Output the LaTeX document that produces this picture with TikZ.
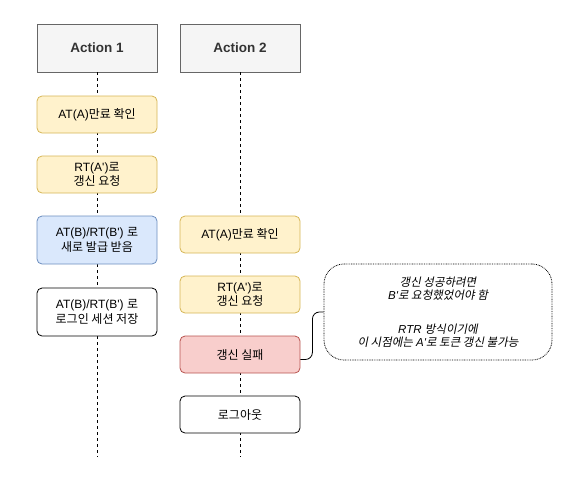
\documentclass[tikz,border=0pt]{standalone}
\usepackage{fontspec}
\setmainfont{Liberation Sans}[Ligatures=TeXOff]
\newfontfamily\kr{Noto Sans CJK KR}
\newfontfamily\krit{Noto Sans CJK KR}[FakeSlant=0.2]
\newcommand\K[1]{{\kr #1}}
\newcommand\KI[1]{{\krit #1}}
\definecolor{hfill}{HTML}{F5F5F5}
\definecolor{hdraw}{HTML}{666666}
\definecolor{htext}{HTML}{333333}
\definecolor{yfill}{HTML}{FFF2CC}
\definecolor{ydraw}{HTML}{D6B656}
\definecolor{bfill}{HTML}{DAE8FC}
\definecolor{bdraw}{HTML}{6C8EBF}
\definecolor{rfill}{HTML}{F8CECC}
\definecolor{rdraw}{HTML}{B85450}
\begin{document}
\begin{tikzpicture}[x=1pt,y=-1pt,
  head/.style={draw=hdraw, fill=hfill, text=htext, line width=0.8pt, minimum width=120pt, minimum height=48pt, inner sep=0pt, font=\fontsize{13.5}{16}\selectfont\bfseries},
  box/.style={draw, rounded corners=5pt, line width=0.8pt, minimum width=120pt, minimum height=37pt, inner sep=0pt, align=center, font=\fontsize{12}{14.5}\selectfont},
  tall/.style={box, minimum height=48pt},
  yel/.style={box, fill=yfill, draw=ydraw},
  blu/.style={tall, fill=bfill, draw=bdraw},
  wht/.style={box, fill=white, draw=black},
  red/.style={box, fill=rfill, draw=rdraw},
  life/.style={dashed, dash pattern=on 3pt off 3pt, line width=0.8pt},
  note/.style={draw, dash pattern=on 0.8pt off 0.9pt, line width=0.8pt, rounded corners=20pt, minimum width=228pt, minimum height=96pt, inner sep=0pt, align=center, font=\fontsize{11.5}{12.5}\selectfont\itshape},
  conn/.style={line width=0.8pt, rounded corners=7pt}
]
\useasboundingbox (0,0) rectangle (564,480);
\node[head] (h1) at (97,48) {Action 1};
\node[head] (h2) at (240,48) {Action 2};
\coordinate (e1) at (97,457);
\coordinate (e2) at (240,457);
\draw[life] (h1.south) -- (e1);
\draw[life] (h2.south) -- (e2);

\node[yel] (a1) at (97,114.5) {AT(A)\K{만료 확인}};
\node[yel] (a2) at (97,174.5) {RT(A')\K{로}\\\K{갱신 요청}};
\node[blu] (a3) at (97,240) {AT(B)/RT(B') \K{로}\\\K{새로 발급 받음}};
\node[tall, fill=white, draw=black] (a4) at (97,312) {AT(B)/RT(B') \K{로}\\\K{로그인 세션 저장}};

\node[yel] (b1) at (240,234.5) {AT(A)\K{만료 확인}};
\node[yel] (b2) at (240,294.5) {RT(A')\K{로}\\\K{갱신 요청}};
\node[red] (fail) at (240,354.5) {\K{갱신 실패}};
\node[wht] (b4) at (240,414.5) {\K{로그아웃}};

\node[note] (note) at (438,312) {\KI{갱신 성공하려면}\\B'\KI{로 요청했었어야 함}\\[22pt]RTR \KI{방식이기에}\\\KI{이 시점에는} A'\KI{로 토큰 갱신 불가능}};
\draw[conn] ([yshift=-5pt]fail.east) -- ++(12,0) |- (note.west);
\end{tikzpicture}
\end{document}
